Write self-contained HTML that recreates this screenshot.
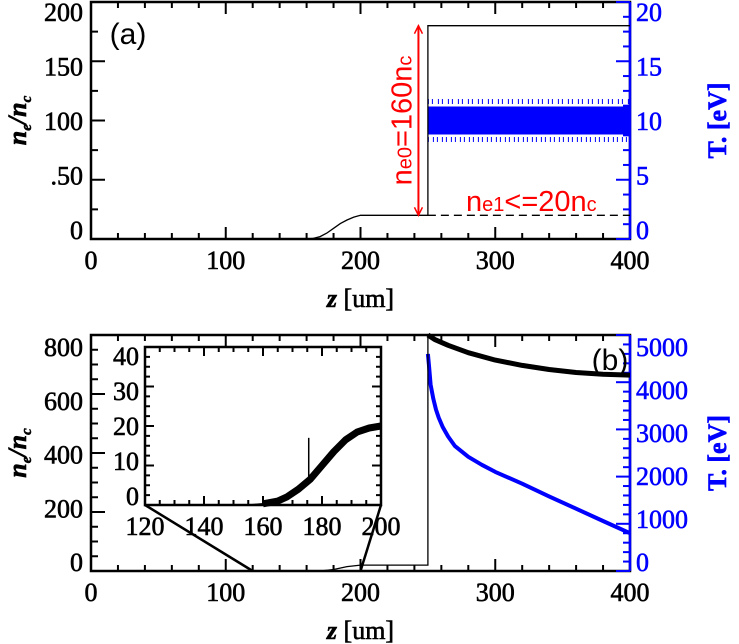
<!DOCTYPE html>
<html><head><meta charset="utf-8"><style>
html,body{margin:0;padding:0;background:#fff}
svg{display:block}
.tk{font-family:"Liberation Serif",serif;font-size:26px;fill:#000;stroke:#000;stroke-width:0.6}
.tb{font-family:"Liberation Serif",serif;font-size:26px;fill:#00f;stroke:#00f;stroke-width:0.6}
</style></head><body>
<svg id="fig" width="739" height="644" viewBox="0 0 739 644" xmlns="http://www.w3.org/2000/svg">
<g id="ga"></g>
<g id="gb"></g>
</svg>
<script>
// ---- Panel (a) data ----
const aDensZ = [0,160,165,170,175,180,185,190,195,200,250,250,400];
const aDensV = [0,0,0.5,2,5,9,13,16,18.5,20,20,180,180];
const aTempZ = [250,280,310,340,370,400];
const aTempV = [10,10,10,10,10,10];
const aYTicks = [0,50,100,150,200];
const aYLabels = ["0",".50","100","150","200"];
const aRTicks = [0,5,10,15,20];
// ---- Panel (b) data ----
const bDensZ = [0,170,180,190,200,250,250,255,265,280,300,320,340,360,380,400];
const bDensV = [0,0,5,15,20,20,800,785,765,740,715,697,683,673,667,664];
const bTempZ = [250,251,252,254,256,258,261,265,270,280,290,300,320,340,360,380,400];
const bTempV = [4600,4300,3950,3650,3420,3250,3050,2850,2650,2420,2250,2100,1850,1580,1320,1060,800];
const bYTicks = [0,200,400,600,800];
const bRTicks = [0,1000,2000,3000,4000,5000];
// ---- Inset data ----
const iZ = [120,150,155,160,165,168,172,176,180,184,188,192,196,200];
const iV = [0,0,0,0.3,1,2,4,6.5,10,13.5,16.5,18.5,19.5,20];
const iSpikeZ = 175.5, iSpikeV = 17;
const xTicks = [0,100,200,300,400];
const iXTicks = [120,140,160,180,200];
const iYTicks = [0,10,20,30,40];

const NS="http://www.w3.org/2000/svg";
function mk(parent,tag,attrs,name){const e=document.createElementNS(NS,tag);for(const k in attrs)e.setAttribute(k,attrs[k]);


parent.appendChild(e);return e;}
function txt(parent,x,y,s,cls,anchor,name){const t=mk(parent,'text',{x:x,y:y,'class':cls,'text-anchor':anchor||'middle'},name);t.textContent=s;return t;}
function pts(zs,vs,sx,sy){return zs.map((z,i)=>sx(z).toFixed(1)+','+sy(vs[i]).toFixed(1)).join(' ');}

const L=91,R=630;
const sx=z=>L+(R-L)*z/400;

function frame(g,T,B,yMax,yMinor,yTicks,yLabels,rMax,rMinor,rTicks,topPad){
  const sy=v=>B-(B-T)*v/yMax, sr=v=>B-(B-T)*v/rMax;
  const ly=f=>(B-9)-((B-9)-(T+topPad))*f; // label centre
  mk(g,'rect',{x:L,y:T,width:R-L,height:B-T,fill:'none',stroke:'#000','stroke-width':2.5},'plot-frame');
  for(let z=0;z<=400;z+=20){const maj=z%100==0,len=maj?12:6;
    mk(g,'line',{x1:sx(z),x2:sx(z),y1:B,y2:B-len,stroke:'#000','stroke-width':2},'x-tick');
    mk(g,'line',{x1:sx(z),x2:sx(z),y1:T,y2:T+len,stroke:'#000','stroke-width':2},'x-tick-top');}
  for(let v=0;v<=yMax+1e-6;v+=yMinor){const maj=yTicks.some(t=>Math.abs(t-v)<1e-6),len=maj?14:7;
    mk(g,'line',{x1:L,x2:L+len,y1:sy(v),y2:sy(v),stroke:'#000','stroke-width':2},'y-tick');}
  for(let v=0;v<=rMax+1e-6;v+=rMinor){const maj=rTicks.some(t=>Math.abs(t-v)<1e-6),len=maj?14:7;
    mk(g,'line',{x1:R,x2:R-len,y1:sr(v),y2:sr(v),stroke:'#00f','stroke-width':2},'right-tick');}
  mk(g,'line',{x1:R,x2:R,y1:T,y2:B,stroke:'#00f','stroke-width':2.5},'right-axis');
  xTicks.forEach(z=>txt(g,sx(z),B+30,String(z),'tk','middle','x-tick-label'));
  yTicks.forEach((v,i)=>txt(g,L-8,ly(v/yMax)+9,yLabels[i],'tk','end','y-tick-label'));
  rTicks.forEach(v=>txt(g,R+6,ly(v/rMax)+9,String(v),'tb','start','right-tick-label'));
  const xt=mk(g,'text',{x:sx(200),y:B+68,'class':'tk','text-anchor':'middle'},'x-axis-title');
  xt.innerHTML='<tspan font-style="italic" font-weight="bold">z</tspan> [um]';
  const yt=mk(g,'text',{x:0,y:0,'class':'tk','text-anchor':'middle',transform:`translate(26,${(T+B)/2}) rotate(-90)`,'font-weight':'bold','font-style':'italic'},'y-axis-title');
  yt.innerHTML='n<tspan font-size="15" dy="5">e</tspan><tspan dy="-5">/n</tspan><tspan font-size="15" dy="5">c</tspan>';
  const rt=mk(g,'text',{x:0,y:0,'class':'tb','text-anchor':'middle',transform:`translate(726,${(T+B)/2}) rotate(-90)`,'font-weight':'bold'},'right-axis-title');
  rt.textContent='T. [eV]';
  return {sy,sr};
}

// Panel a
const ga=document.getElementById('ga');
const A=frame(ga,2,239,200,25,aYTicks,aYLabels,20,1.25,aRTicks,10);
mk(ga,'polyline',{points:pts(aTempZ,aTempV,sx,A.sr),fill:'none',stroke:'#00f','stroke-width':28},'temperature-band');
mk(ga,'polyline',{points:pts(aTempZ,aTempV.map(v=>v+1.6),sx,A.sr),fill:'none',stroke:'#00f','stroke-width':5,'stroke-dasharray':'1 3 1 5'},'temperature-peaks');
mk(ga,'polyline',{points:pts(aTempZ,aTempV.map(v=>v-1.6),sx,A.sr),fill:'none',stroke:'#00f','stroke-width':5,'stroke-dasharray':'1 4 1 3'},'temperature-dips');
mk(ga,'polyline',{points:pts(aDensZ,aDensV,sx,A.sy),fill:'none',stroke:'#000','stroke-width':1.3},'density-line');
mk(ga,'line',{x1:sx(250),x2:sx(400),y1:A.sy(20),y2:A.sy(20),stroke:'#000','stroke-width':1.3,'stroke-dasharray':'8 5'},'ne1-dashed-line');
const ax=sx(243);
mk(ga,'line',{x1:ax,x2:ax,y1:A.sy(180),y2:A.sy(20),stroke:'#f00','stroke-width':2},'red-arrow');
mk(ga,'path',{d:`M${ax-4},${A.sy(180)+8} L${ax},${A.sy(180)} L${ax+4},${A.sy(180)+8} M${ax-4},${A.sy(20)-8} L${ax},${A.sy(20)} L${ax+4},${A.sy(20)-8}`,fill:'none',stroke:'#f00','stroke-width':1.5},'red-arrowheads');
const r1=mk(ga,'text',{x:0,y:0,transform:`translate(${ax-7},${A.sy(100)}) rotate(-90)`,'text-anchor':'middle','font-family':'"Liberation Sans",sans-serif','font-size':'29',fill:'#f00'},'ne0-label');
r1.innerHTML='n<tspan font-size="20">e0</tspan>=160n<tspan font-size="20">c</tspan>';
const r2=mk(ga,'text',{x:466,y:211,'font-family':'"Liberation Sans",sans-serif','font-size':'29',fill:'#f00'},'ne1-label');
r2.innerHTML='n<tspan font-size="20">e1</tspan>&lt;=20n<tspan font-size="20">c</tspan>';
txt(ga,128,44,'(a)','tk','middle','panel-a-label').setAttribute('style','font-family:"Liberation Sans",sans-serif;stroke:none;font-size:30px');

// Panel b
const gb=document.getElementById('gb');
const Bp=frame(gb,335,571,800,50,bYTicks,bYTicks.map(String),5000,200,bRTicks,12);
mk(gb,'polyline',{points:pts(bTempZ,bTempV,sx,Bp.sr),fill:'none',stroke:'#00f','stroke-width':4,'stroke-linejoin':'round'},'temperature-line');
mk(gb,'polyline',{points:pts(bDensZ,bDensV,sx,Bp.sy),fill:'none',stroke:'#000','stroke-width':1.3},'density-line-thin');
mk(gb,'polyline',{points:pts(bDensZ.slice(6),bDensV.slice(6),sx,Bp.sy),fill:'none',stroke:'#000','stroke-width':5,'stroke-linejoin':'round'},'density-band');
txt(gb,610,370,'(b)','tk','middle','panel-b-label').setAttribute('style','font-family:"Liberation Sans",sans-serif;stroke:none;font-size:30px');
// inset
const IL=145,IR=381,IT=347,IB=505;
const ix=z=>IL+(IR-IL)*(z-120)/80, iy=v=>IB-(IB-IT)*v/40;
mk(gb,'rect',{x:IL,y:IT,width:IR-IL,height:IB-IT,fill:'#fff',stroke:'#000','stroke-width':2.5},'inset-frame');
for(let z=120;z<=200;z+=5){const maj=z%20==0,len=maj?9:5;
  mk(gb,'line',{x1:ix(z),x2:ix(z),y1:IB,y2:IB-len,stroke:'#000','stroke-width':2},'inset-x-tick');
  mk(gb,'line',{x1:ix(z),x2:ix(z),y1:IT,y2:IT+len,stroke:'#000','stroke-width':2},'inset-x-tick-top');}
for(let v=0;v<=40;v+=2.5){const maj=v%10==0,len=maj?9:5;
  mk(gb,'line',{x1:IL,x2:IL+len,y1:iy(v),y2:iy(v),stroke:'#000','stroke-width':2},'inset-y-tick');
  mk(gb,'line',{x1:IR,x2:IR-len,y1:iy(v),y2:iy(v),stroke:'#000','stroke-width':2},'inset-y-tick-right');}
iXTicks.forEach(z=>txt(gb,ix(z),IB+30,String(z),'tk','middle','inset-x-tick-label'));
iYTicks.forEach(v=>txt(gb,IL-6,(IB-9)-((IB-9)-(IT+9))*v/40+9,String(v),'tk','end','inset-y-tick-label'));
const iOn=iZ.map((z,i)=>i).filter(i=>iZ[i]>=158);
mk(gb,'polyline',{points:pts(iZ,iV,ix,iy),fill:'none',stroke:'#000','stroke-width':1.5},'inset-density-line');
mk(gb,'polyline',{points:pts(iOn.map(i=>iZ[i]),iOn.map(i=>iV[i]),ix,iy),fill:'none',stroke:'#000','stroke-width':7,'stroke-linejoin':'round'},'inset-density-band');
mk(gb,'line',{x1:ix(iSpikeZ),x2:ix(iSpikeZ),y1:iy(iSpikeV),y2:iy(7),stroke:'#000','stroke-width':1.5},'inset-spike');
mk(gb,'line',{x1:IL,y1:IB,x2:sx(120),y2:571,stroke:'#000','stroke-width':2.5},'zoom-line-left');
mk(gb,'line',{x1:IR,y1:IB,x2:sx(200),y2:571,stroke:'#000','stroke-width':2.5},'zoom-line-right');
</script>
</body></html>
